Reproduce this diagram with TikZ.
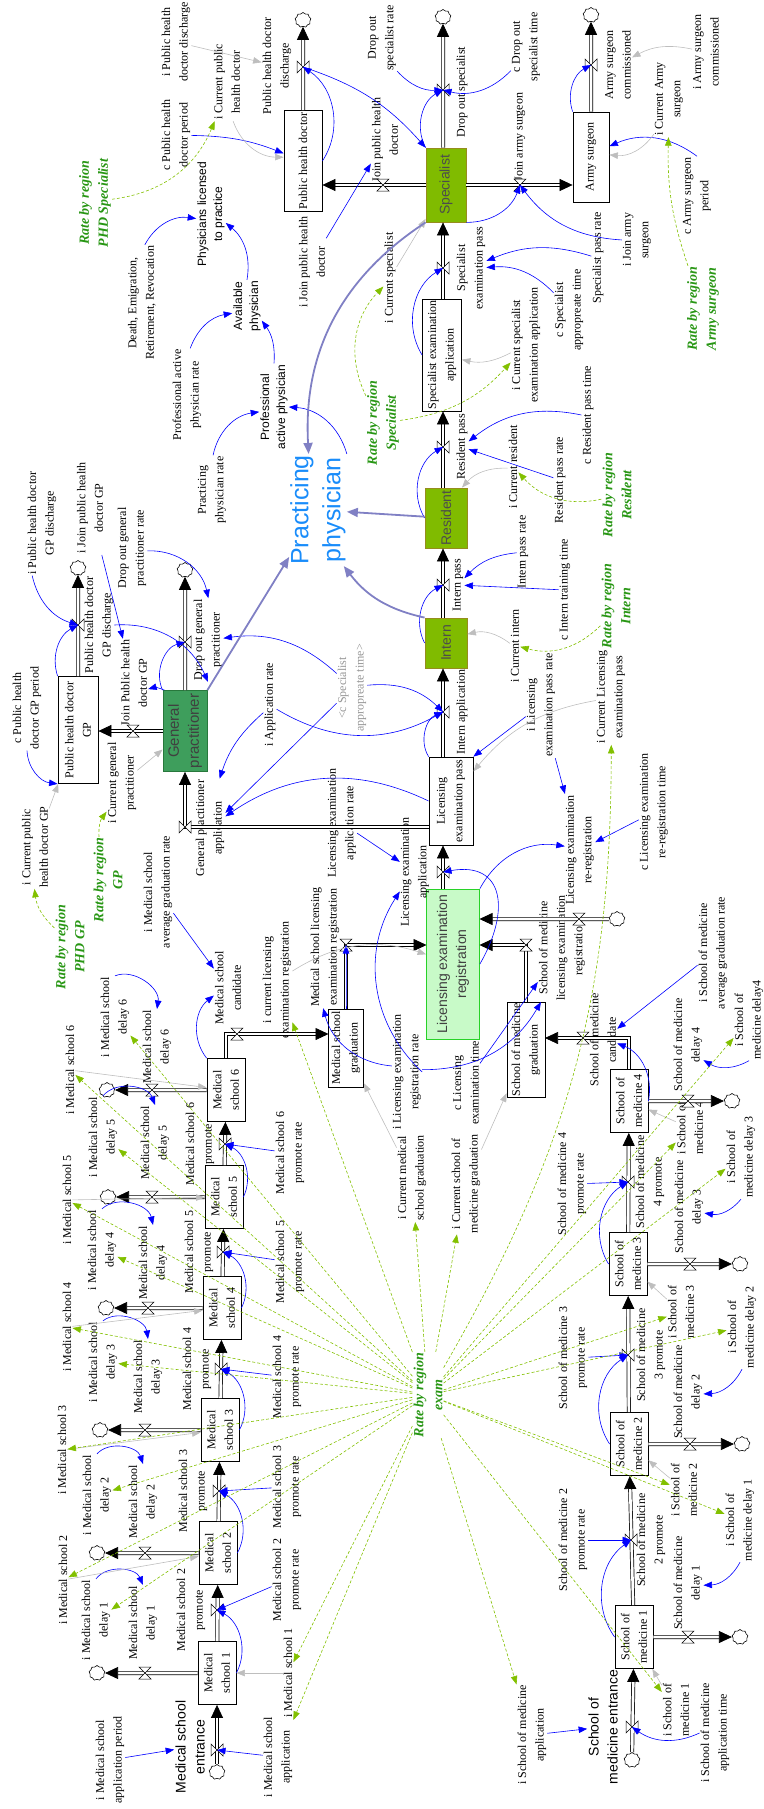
\documentclass[tikz,border=0pt]{standalone}
\usepackage{fontspec}
\setmainfont{Liberation Serif}
\setsansfont{Liberation Sans}
\usetikzlibrary{arrows.meta,shapes.symbols}

\definecolor{linkblue}{RGB}{0,0,255}
\definecolor{linkgrey}{RGB}{190,190,190}
\definecolor{linkgreen}{RGB}{130,192,0}
\definecolor{regiongreen}{RGB}{40,150,20}
\definecolor{feedpurple}{RGB}{128,128,196}
\definecolor{olivestock}{RGB}{128,187,0}
\definecolor{olivedraw}{RGB}{150,140,30}
\definecolor{gpstock}{RGB}{62,158,92}
\definecolor{gpdraw}{RGB}{40,120,60}
\definecolor{regstock}{RGB}{200,250,200}
\definecolor{regdraw}{RGB}{40,210,40}
\definecolor{physblue}{RGB}{25,140,250}
\definecolor{shadowgrey}{RGB}{150,150,150}

\newcommand{\lbfont}{\fontsize{12}{17.5}\selectfont}
\newcommand{\sflbfont}{\sffamily\fontsize{12}{16}\selectfont}
\newcommand{\entfont}{\sffamily\fontsize{14}{19}\selectfont}
\newcommand{\stockfont}{\sffamily\fontsize{14}{19}\selectfont}
\newcommand{\regfont}{\bfseries\itshape\fontsize{14}{19}\selectfont}

\begin{document}
\begin{tikzpicture}[x = 1pt, y = -1pt,
	lbl/.style = {rotate = 90, align = center, inner sep = 1pt, font = \lbfont},
	slbl/.style = {lbl, font = \sflbfont},
	region/.style = {lbl, text = regiongreen, font = \regfont},
	stock/.style = {lbl, draw, fill = white, line width = 0.8pt},
	levelstock/.style = {stock, fill = olivestock, draw = olivedraw, text = black!70, font = \stockfont},
	src/.style = {cloud, cloud puffs = 9, cloud puff arc = 130, draw, fill = white, line width = 0.6pt, minimum width = 16pt, minimum height = 15pt, inner sep = 0pt},
	pipe/.style = {draw, line width = 0.7pt, double = white, double distance = 2.6pt, -{Triangle[width = 12pt, length = 13pt]}},
	info/.style = {draw = linkblue, line width = 0.6pt, -{Triangle[width = 6.5pt, length = 8.5pt]}},
	ghost/.style = {info, draw = linkgrey},
	regionlink/.style = {info, draw = linkgreen, dash pattern = on 3pt off 2pt},
	feed/.style = {draw = feedpurple, line width = 1.8pt, -{Triangle[width = 9pt, length = 11pt]}},
	vv/.pic = {\draw[fill = white, line width = 0.5pt] (-6, -6) -- (-6, 6) -- (6, -6) -- (6, 6) -- cycle;},
	vh/.pic = {\draw[fill = white, line width = 0.5pt] (-6, -6) -- (6, -6) -- (-6, 6) -- (6, 6) -- cycle;}]

	\useasboundingbox (0, 0) rectangle (763, 1809);

	% stocks
	\node (MS1)   at (217, 1673) [stock, minimum width = 63pt, minimum height = 38pt] {Medical\\school 1};
	\node (MS2)   at (218, 1553) [stock, minimum width = 63pt, minimum height = 38pt] {Medical\\school 2};
	\node (MS3)   at (220, 1430) [stock, minimum width = 63pt, minimum height = 38pt] {Medical\\school 3};
	\node (MS4)   at (222, 1308) [stock, minimum width = 63pt, minimum height = 38pt] {Medical\\school 4};
	\node (MS5)   at (224, 1197) [stock, minimum width = 63pt, minimum height = 38pt] {Medical\\school 5};
	\node (MS6)   at (226, 1090) [stock, minimum width = 63pt, minimum height = 38pt] {Medical\\school 6};
	\node (MSG)   at (346, 1048) [stock, minimum width = 78pt, minimum height = 35pt] {Medical school\\graduation};
	\node (SM1)   at (634, 1637) [stock, minimum width = 63pt, minimum height = 38pt] {School of\\medicine 1};
	\node (SM2)   at (629, 1444) [stock, minimum width = 63pt, minimum height = 38pt] {School of\\medicine 2};
	\node (SM3)   at (628, 1264) [stock, minimum width = 63pt, minimum height = 38pt] {School of\\medicine 3};
	\node (SM4)   at (629, 1101) [stock, minimum width = 63pt, minimum height = 38pt] {School of\\medicine 4};
	\node (SMG)   at (526, 1050) [stock, minimum width = 95pt, minimum height = 38pt] {School of medicine\\graduation};
	\node (LER)   at (453,  964) [stock, fill = regstock, draw = regdraw, text = black!75, font = \stockfont, minimum width = 150pt, minimum height = 53pt] {Licensing examination\\registration};
	\node (LEP)   at (451,  801) [stock, minimum width = 88pt, minimum height = 44pt] {Licensing\\examination pass};
	\node (GP)    at (185,  731) [stock, fill = gpstock, draw = gpdraw, text = black!75, font = \sffamily\fontsize{15}{20}\selectfont, minimum width = 81pt, minimum height = 44pt] {General\\practitioner};
	\node (PHDGP) at ( 78,  730) [stock, minimum width = 107pt, minimum height = 40pt] {Public health doctor\\GP};
	\node (INT)   at (446,  643) [levelstock, minimum width = 50pt, minimum height = 42pt] {Intern};
	\node (RES)   at (446,  518) [levelstock, minimum width = 60pt, minimum height = 42pt] {Resident};
	\node (SEA)   at (442,  355) [stock, minimum width = 112pt, minimum height = 39pt] {Specialist examination\\application};
	\node (SP)    at (446,  185) [levelstock, minimum width = 74pt, minimum height = 40pt] {Specialist};
	\node (AS)    at (591,  157) [stock, minimum width = 90pt, minimum height = 36pt] {Army surgeon};
	\node (PHD)   at (303,  161) [stock, minimum width = 101pt, minimum height = 38pt] {Public health doctor};

	% sources and sinks
	\node (cms0) at (217, 1772) [src] {};
	\node (cmo1) at ( 97, 1673) [src] {};
	\node (cmo2) at ( 97, 1553) [src] {};
	\node (cmo3) at (100, 1430) [src] {};
	\node (cmo4) at (106, 1308) [src] {};
	\node (cmo5) at (108, 1197) [src] {};
	\node (cmo6) at (107, 1090) [src] {};
	\node (csm0) at (632, 1760) [src] {};
	\node (cso1) at (740, 1637) [src] {};
	\node (cso2) at (742, 1444) [src] {};
	\node (cso3) at (740, 1264) [src] {};
	\node (cso4) at (732, 1101) [src] {};
	\node (creg) at (617,  919) [src] {};
	\node (cgp)  at (185,  570) [src] {};
	\node (cpg)  at ( 78,  568) [src] {};
	\node (csp)  at (443,   17) [src] {};
	\node (cas)  at (591,   15) [src] {};
	\node (cphd) at (303,   20) [src] {};

	% valves and pipe ends
	\coordinate (vms0) at (217, 1750);
	\coordinate (vms1) at (217, 1610);
	\coordinate (vms2) at (219, 1491);
	\coordinate (vms3) at (221, 1369);
	\coordinate (vms4) at (223, 1252);
	\coordinate (vms5) at (225, 1144);
	\coordinate (vms6) at (237, 1034);
	\coordinate (vmo1) at (145, 1673);
	\coordinate (vmo2) at (145, 1553);
	\coordinate (vmo3) at (145, 1430);
	\coordinate (vmo4) at (148, 1308);
	\coordinate (vmo5) at (152, 1197);
	\coordinate (vmo6) at (152, 1090);
	\coordinate (vmsg) at (346,  945);
	\coordinate (vsm0) at (632, 1727);
	\coordinate (vsm1) at (631, 1540);
	\coordinate (vsm2) at (628, 1355);
	\coordinate (vsm3) at (628, 1182);
	\coordinate (vsm4) at (583, 1038);
	\coordinate (vso1) at (688, 1637);
	\coordinate (vso2) at (690, 1444);
	\coordinate (vso3) at (690, 1264);
	\coordinate (vso4) at (688, 1101);
	\coordinate (vsmg) at (526,  945);
	\coordinate (vreg) at (579,  919);
	\coordinate (vlea) at (443,  872);
	\coordinate (via)  at (443,  712);
	\coordinate (vip)  at (443,  585);
	\coordinate (vrp)  at (443,  447);
	\coordinate (vsep) at (443,  268);
	\coordinate (vdos) at (443,   90);
	\coordinate (vgpa) at (185,  827);
	\coordinate (vdog) at (185,  642);
	\coordinate (vjpg) at (133,  731);
	\coordinate (vpgd) at ( 78,  625);
	\coordinate (vjas) at (520,  185);
	\coordinate (vasc) at (591,   65);
	\coordinate (vjphd) at (383, 185);
	\coordinate (vphd) at (303,   67);
	\coordinate (msgin)  at (328.5, 1034);
	\coordinate (smgin)  at (545, 1038);
	\coordinate (lerin1) at (426.5, 945);
	\coordinate (lerin2) at (479.5, 945);
	\coordinate (lerin3) at (479.5, 919);

	% medical school labels
	\node (iMSAP) at (110, 1760) [lbl] {i Medical school\\application period};
	\node (MSE)   at (190, 1747) [lbl, font = \entfont] {Medical school\\entrance};
	\node (iMSA)  at (278, 1757) [lbl] {i Medical school\\application};
	\node (iMS1)  at (288, 1673) [lbl] {i Medical school 1};
	\node (iMSD1) at ( 96, 1620) [lbl] {i Medical school\\delay 1};
	\node (MSD1)  at (143, 1623) [lbl] {Medical school\\delay 1};
	\node (iMS2)  at ( 63, 1580) [lbl] {i Medical school 2};
	\node (MSP2)  at (191, 1610) [lbl] {Medical school 2\\promote};
	\node (MSPR2) at (287, 1580) [lbl] {Medical school 2\\promote rate};
	\node (iMSD2) at ( 97, 1495) [lbl] {i Medical school\\delay 2};
	\node (MSD2)  at (143, 1502) [lbl] {Medical school\\delay 2};
	\node (MSP3)  at (193, 1491) [lbl] {Medical school 3\\promote};
	\node (MSPR3) at (287, 1487) [lbl] {Medical school 3\\promote rate};
	\node (iMS3)  at ( 62, 1450) [lbl] {i Medical school 3};
	\node (iMSD3) at (103, 1362) [lbl] {i Medical school\\delay 3};
	\node (MSD3)  at (148, 1377) [lbl] {Medical school\\delay 3};
	\node (iMS4)  at ( 67, 1327) [lbl] {i Medical school 4};
	\node (MSP4)  at (197, 1369) [lbl] {Medical school 4\\promote};
	\node (MSPR4) at (287, 1377) [lbl] {Medical school 4\\promote rate};
	\node (iMSD4) at (102, 1250) [lbl] {i Medical school\\delay 4};
	\node (MSD4)  at (153, 1263) [lbl] {Medical school\\delay 4};
	\node (iMS5)  at ( 67, 1200) [lbl] {i Medical school 5};
	\node (MSP5)  at (199, 1252) [lbl] {Medical school 5\\promote};
	\node (MSPR5) at (290, 1262) [lbl] {Medical school 5\\promote rate};
	\node (iMSD5) at (103, 1137) [lbl] {i Medical school\\delay 5};
	\node (MSD5)  at (155, 1143) [lbl] {Medical school\\delay 5};
	\node (MSP6)  at (200, 1144) [lbl] {Medical school 6\\promote};
	\node (MSPR6) at (290, 1153) [lbl] {Medical school 6\\promote rate};
	\node (iMS6)  at ( 70, 1070) [lbl] {i Medical school 6};
	\node (iMSD6) at (115, 1017) [lbl] {i Medical school\\delay 6};
	\node (MSD6)  at (157, 1047) [lbl] {Medical school\\delay 6};
	\node (MSC)   at (228,  988) [lbl] {Medical school\\candidate};
	\node (iMSAG) at (158,  892) [lbl] {i Medical school\\average graduation rate};
	\node (iCLER) at (277,  980) [lbl] {i current licensing\\examination registration};
	\node (MSLER) at (325,  947) [lbl] {Medical school licensing\\examination registration};
	\node (iCMSG) at (412, 1178) [lbl] {i Current medical\\school graduation};
	\node (iCSMG) at (466, 1184) [lbl] {i Current school of\\medicine graduation};
	\node (iLERR) at (407, 1072) [lbl] {i Licensing examination\\registration rate};
	\node (cLET)  at (466, 1083) [lbl] {c Licensing\\examination time};
	\node (RBE)   at (428, 1395) [region] {Rate by region\\exam};

	% school of medicine labels
	\node (iSMA)  at (532, 1735) [lbl] {i School of medicine\\application};
	\node (SME)   at (603, 1727) [lbl, font = \entfont] {School of\\medicine entrance};
	\node (iSM1)  at (676, 1710) [lbl] {i School of\\medicine 1};
	\node (iSMAT) at (715, 1733) [lbl] {i School of medicine\\application time};
	\node (SMPR2) at (573, 1540) [lbl] {School of medicine 2\\promote rate};
	\node (SMP2)  at (651, 1540) [lbl] {School of medicine\\2 promote};
	\node (iSM2)  at (684, 1490) [lbl] {i School of\\medicine 2};
	\node (SMD1)  at (688, 1583) [lbl] {School of medicine\\delay 1};
	\node (iSMD1) at (740, 1520) [lbl] {i School of\\medicine delay 1};
	\node (SMPR3) at (573, 1358) [lbl] {School of medicine 3\\promote rate};
	\node (SMP3)  at (651, 1355) [lbl] {School of medicine\\3 promote};
	\node (iSM3)  at (681, 1312) [lbl] {i School of\\medicine 3};
	\node (SMD2)  at (688, 1392) [lbl] {School of medicine\\delay 2};
	\node (iSMD2) at (742, 1327) [lbl] {i School of\\medicine delay 2};
	\node (SMPR4) at (572, 1184) [lbl] {School of medicine 4\\promote rate};
	\node (SMP4)  at (650, 1182) [lbl] {School of medicine\\4 promote};
	\node (iSM4)  at (690, 1128) [lbl] {i School of\\medicine 4};
	\node (SMD3)  at (689, 1207) [lbl] {School of medicine\\delay 3};
	\node (iSMD3) at (741, 1157) [lbl] {i School of\\medicine delay 3};
	\node (SMD4)  at (688, 1045) [lbl] {School of medicine\\delay 4};
	\node (iSMD4) at (749, 1020) [lbl] {i School of\\medicine delay4};
	\node (SMC)   at (603, 1040) [lbl] {School of medicine\\candidate};
	\node (iSMAG) at (713,  953) [lbl] {i School of medicine\\average graduation rate};
	\node (SMLER) at (562,  948) [lbl] {School of medicine\\licensing examination\\registration};
	\node (LERR)  at (580,  850) [lbl] {Licensing examination\\re-registration};
	\node (cLERT) at (654,  812) [lbl] {c Licensing examination\\re-registration time};
	\node (iLEPR) at (541,  705) [lbl] {i Licensing\\examination pass rate};
	\node (iCLEP) at (611,  697) [lbl] {i Current Licensing\\examination pass};

	% practitioner labels
	\node (LEA)   at (415,  872) [lbl] {Licensing examination\\application};
	\node (LEAR)  at (342,  823) [lbl] {Licensing examination\\application rate};
	\node (GPA)   at (210,  828) [lbl] {General practitioner\\application};
	\node (iCGP)  at (122,  783) [lbl] {i Current general\\practitioner};
	\node (RRGP)  at (108,  880) [region] {Rate by region\\GP};
	\node (RRPG)  at ( 70,  947) [region] {Rate by region\\PHD GP};
	\node (iCPG)  at ( 35,  847) [lbl] {i Current public\\health doctor GP};
	\node (cPGP)  at ( 27,  708) [lbl] {c Public health\\doctor GP period};
	\node (JPG)   at (134,  683) [lbl] {Join Public health\\doctor GP};
	\node (PGD)   at ( 99,  625) [lbl] {Public health doctor\\GP discharge};
	\node (iPGD)  at ( 42,  523) [lbl] {i Public health doctor\\GP discharge};
	\node (iJPG)  at ( 90,  508) [lbl] {i Join public health\\doctor GP};
	\node (DOGPR) at (132,  548) [lbl] {Drop out general\\practitioner rate};
	\node (DOGP)  at (208,  640) [lbl] {Drop out general\\practitioner};
	\node (iAR)   at (270,  705) [lbl] {i Application rate};
	\node (cSAT)  at (352,  688) [lbl, text = shadowgrey] {<c Specialist\\appropreate time>};
	\node (IA)    at (462,  712) [lbl] {Intern application};
	\node (PP)    at (318,  510) [lbl, text = physblue, font = \sffamily\fontsize{25}{32}\selectfont] {Practicing\\physician};
	\node (PAP)   at (274,  407) [slbl] {Professional\\active physician};
	\node (PPR)   at (212,  490) [lbl] {Practicing\\physician rate};
	\node (PAPR)  at (187,  395) [lbl] {Professional active\\physician rate};
	\node (AVP)   at (247,  306) [slbl] {Available\\physician};
	\node (PLP)   at (211,  214) [slbl] {Physicians licensed\\to practice};
	\node (DERR)  at (142,  303) [lbl] {Death, Emigration,\\Retirement, Revocation};

	% specialist labels
	\node (RRPS)  at ( 95,  203) [region] {Rate by region\\PHD Specialist};
	\node (cPHDP) at (176,  135) [lbl] {c Public health\\doctor period};
	\node (iPHDD) at (176,   42) [lbl] {i Public health\\doctor discharge};
	\node (iCPHD) at (227,   82) [lbl] {i Current public\\health doctor};
	\node (PHDD)  at (277,   66) [lbl] {Public health doctor\\discharge};
	\node (iJPHD) at (312,  262) [lbl] {i Join public health\\doctor};
	\node (JPHD)  at (385,  140) [lbl] {Join public health\\doctor};
	\node (DOSR)  at (382,   38) [lbl] {Drop out\\specialist rate};
	\node (DOS)   at (462,   92) [lbl] {Drop out specialist};
	\node (cDOST) at (526,   47) [lbl] {c Drop out\\specialist time};
	\node (JAS)   at (520,  137) [lbl] {Join army surgeon};
	\node (iJAS)  at (637,  240) [lbl] {i Join army\\surgeon};
	\node (SPR)   at (598,  258) [lbl] {Specialist pass rate};
	\node (SEP)   at (471,  268) [lbl] {Specialist\\examination pass};
	\node (cSAT2) at (569,  310) [lbl] {c Specialist\\appropreate time};
	\node (ASC)   at (618,   65) [lbl] {Army surgeon\\commissioned};
	\node (iASC)  at (706,   52) [lbl] {i Army surgeon\\commissioned};
	\node (iCAS)  at (669,   99) [lbl] {i Current Army\\surgeon};
	\node (cASP)  at (697,  196) [lbl] {c Army surgeon\\period};
	\node (RRAS)  at (703,  309) [region] {Rate by region\\Army surgeon};
	\node (iCS)   at (390,  278) [lbl] {i Current specialist};
	\node (RRS)   at (383,  423) [region] {Rate by region\\Specialist};
	\node (iCSEA) at (526,  345) [lbl] {i Current specialist\\examination application};
	\node (iCR)   at (513,  467) [lbl] {i Current resident};
	\node (RP)    at (462,  447) [lbl] {Resident pass};
	\node (RPR)   at (560,  480) [lbl] {Resident pass rate};
	\node (cRPT)  at (588,  415) [lbl] {c Resident pass time};
	\node (RRR)   at (617,  495) [region] {Rate by region\\Resident};
	\node (IP)    at (458,  585) [lbl] {Intern pass};
	\node (IPR)   at (523,  552) [lbl] {Intern pass rate};
	\node (cITT)  at (565,  590) [lbl] {c Intern training time};
	\node (iCI)   at (515,  646) [lbl] {i Current intern};
	\node (RRI)   at (616,  606) [region] {Rate by region\\Intern};

	% flows
	\foreach \from/\to in {cms0/MS1, MS1/MS2, MS2/MS3, MS3/MS4, MS4/MS5, MS5/MS6,
	MS1/cmo1, MS2/cmo2, MS3/cmo3, MS4/cmo4, MS5/cmo5, MS6/cmo6,
	csm0/SM1, SM1/SM2, SM2/SM3, SM3/SM4, SM1/cso1, SM2/cso2, SM3/cso3, SM4/cso4,
	creg/lerin3, GP/cgp, PHDGP/cpg, AS/cas, PHD/cphd}
		\draw[pipe] (\from) -- (\to);
	\draw[pipe] (MS6) |- (msgin);
	\draw[pipe] (MSG) |- (lerin1);
	\draw[pipe] (SM4) |- (smgin);
	\draw[pipe] (SMG) |- (lerin2);
	\draw[pipe] (LER.east -| vlea) -- (LEP.west -| vlea);
	\draw[pipe] (LEP.east -| via) -- (INT.west -| via);
	\draw[pipe] (INT.east -| vip) -- (RES.west -| vip);
	\draw[pipe] (RES.east -| vrp) -- (SEA.west -| vrp);
	\draw[pipe] (SEA.east -| vsep) -- (SP.west -| vsep);
	\draw[pipe] (SP.east -| vdos) -- (csp);
	\draw[pipe] (LEP.north |- vgpa) -| (GP);
	\draw[pipe] (GP) -- (PHDGP.south |- GP);
	\draw[pipe] (SP) -- (AS.north |- SP);
	\draw[pipe] (SP) -- (PHD.south |- SP);

	\foreach \v in {vms0, vms1, vms2, vms3, vms4, vms5, vsm0, vsm1, vsm2, vsm3, vlea, via, vip, vrp, vsep, vdos, vgpa, vdog, vpgd, vasc, vphd}
		\pic at (\v) {vv};
	\foreach \v in {vms6, vmo1, vmo2, vmo3, vmo4, vmo5, vmo6, vmsg, vsm4, vso1, vso2, vso3, vso4, vsmg, vreg, vjpg, vjas, vjphd}
		\pic at (\v) {vh};

	% links
	\foreach \from/\bend/\to in {iMSAP/0/MSE, iMSA/0/vms0, iMSAG/0/MSC, MS6.north east/45/MSC, MSG/0/vmsg,
	iMSD1.east/60/MSD1.east, iMSD2.east/60/MSD2.east, iMSD3.east/60/MSD3.east, iMSD4.east/60/MSD4.east, iMSD5.east/60/MSD5.east, iMSD6.east/60/MSD6.east,
	MS1.south/-45/vms1, MS2.south/-45/vms2, MS3.south/-45/vms3, MS4.south/-45/vms4, MS5.south/-45/vms5,
	MSPR2/0/vms1, MSPR3/0/vms2, MSPR4/0/vms3, MSPR5/0/vms4, MSPR6/0/vms5,
	iLERR/35/MSLER, iLERR/-30/SMLER, cLET/0/SMLER, iLERR.south/40/LEA,
	iSMA/0/SME, iSMAT.north/30/vsm0, SM1.north/45/vsm1, SM2.north/45/vsm2, SM3.north/45/vsm3,
	SMPR2/0/vsm1, SMPR3/0/vsm2, SMPR4/0/vsm3,
	iSMD1.west/30/SMD1, iSMD2.west/30/SMD2, iSMD3.west/30/SMD3, iSMD4.west/30/SMD4,
	SM4.south/-40/SMC, iSMAG/0/SMC,
	LER.south east/35/LERR, LEP.north east/50/via, LEP.north/-30/GPA,
	iLEPR/0/LERR, iLEPR/0/LEP.south east, cLERT/0/LERR, LEAR/0/LEA,
	iAR/-15/GPA, iAR/-30/via, cSAT/-25/DOGP, cSAT/25/via, cSAT/0/GPA,
	DOGPR/40/DOGP, GP.north east/50/vdog, GP/-20/JPG, PGD.south/35/DOGP.west, iJPG/0/JPG,
	iPGD/-30/vpgd, PHDGP.north east/40/vpgd, cPGP.west/-40/PHDGP.north west,
	PPR/35/PAP, PP.south east/-35/PAP.south, PAPR/30/AVP, PAP.east/-20/AVP, AVP.east/-30/PLP, DERR/35/PLP,
	cPHDP/10/PHD, PHD.south/-45/vphd, vphd/15/SP.north east, iJPHD/0/JPHD,
	DOSR/-25/vdos, cDOST/30/vdos, SP.north east/45/vdos, iJAS/25/vjas, SP.south west/-35/vjas,
	SPR/-20/SEP, cSAT2/-25/SEP, SEA.north/45/vsep, AS.north east/40/vasc, cASP.east/-30/AS,
	RPR/0/RP, cRPT.north/-25/RP, RES.north/45/vrp, IPR/-20/IP, cITT/0/IP, INT.north/45/vip}
		\path (\from) edge [info, bend left = \bend] (\to);
	\path (LER.south) edge [info, out = 60, in = 10, looseness = 1.6] (vlea);

	\foreach \from/\bend/\to in {iMS1/0/MS1, iMS2/0/MS2, iMS3/0/MS3, iMS4/0/MS4, iMS5/0/MS5, iMS6/0/MS6,
	iSM1/0/SM1, iSM2/0/SM2, iSM3/0/SM3, iSM4/0/SM4, iCMSG/0/MSG, iCSMG/0/SMG, iCLER/25/LER,
	iCGP/0/GP, iCPG/0/PHDGP, iCPHD/-35/PHD, iPHDD/0/PHDD, iASC/-20/ASC, iCAS/30/AS,
	iCS/0/SP, iCSEA/20/SEA, iCR/-25/RES, iCI/-25/INT, iCLEP/-20/LEP}
		\path (\from) edge [ghost, bend left = \bend] (\to);

	\foreach \from/\bend/\to in {RRGP/20/iCGP, RRPG/20/iCPG, RRPS/-30/iCPHD, RRAS/10/iCAS,
	RRS/35/iCS, RRS/-20/iCSEA, RRR/30/iCR, RRI/30/iCI, RBE/-15/iCLEP}
		\path (\from) edge [regionlink, bend left = \bend] (\to);
	\foreach \to in {iMSA, iMS1, iMS2, iMS3, iMS4, iMS5, iMS6, iMSD1, iMSD2, iMSD3, iMSD4, iMSD5, iMSD6,
	iCLER, iCMSG, iCSMG, iSMA, iSM1, iSM2, iSM3, iSM4, iSMD1, iSMD2, iSMD3, iSMD4}
		\path (RBE) edge [regionlink] (\to);

	\foreach \from/\bend/\to in {SP.north west/-30/PP, GP.south east/0/PP, INT.north east/20/PP, RES/0/PP}
		\path (\from) edge [feed, bend left = \bend] (\to);

\end{tikzpicture}
\end{document}
